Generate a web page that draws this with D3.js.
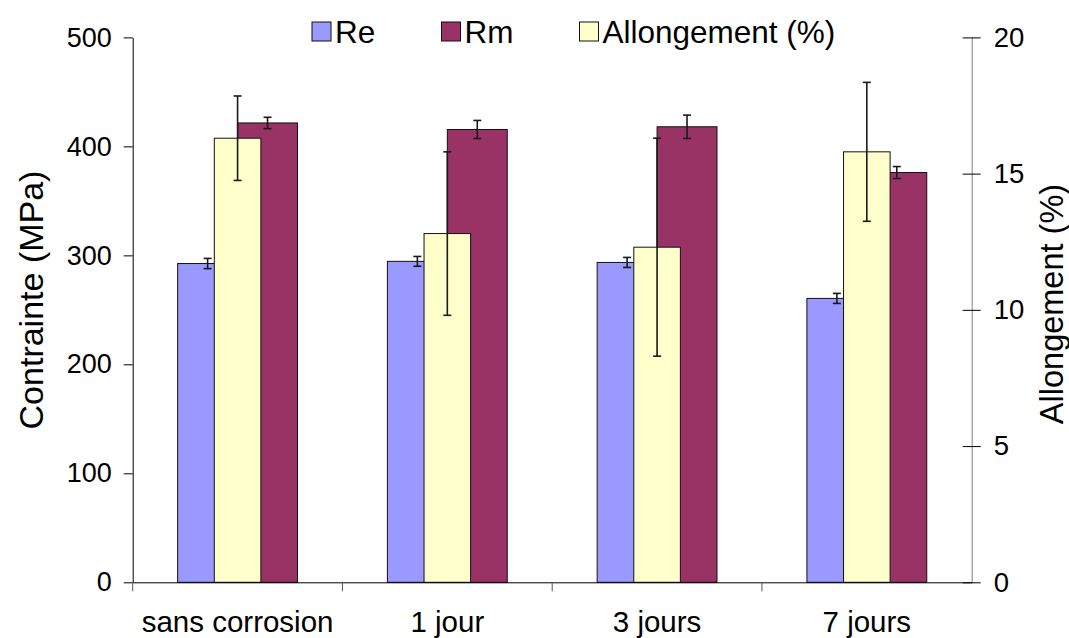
<!DOCTYPE html>
<html lang="fr">
<head>
<meta charset="utf-8">
<title>Re, Rm et allongement</title>
<script src="https://d3js.org/d3.v7.min.js"></script>
<style>
  body { margin: 0; background: #fff; }
  svg text { font-family: "Liberation Sans", Arial, sans-serif; fill: #000; }
</style>
</head>
<body>
<div id="chart"></div>
<script>
var categories = ["sans corrosion", "1 jour", "3 jours", "7 jours"];

var reValues = [292.5, 294.5, 293.5, 260.5];
var reErrors = [4.7, 4.5, 4.6, 4.6];

var rmValues = [421.5, 415.5, 418, 376];
var rmErrors = [5.2, 8.3, 10.7, 5.5];

var allongValues = [16.3, 12.8, 12.3, 15.8];
var allongErrors = [1.55, 3.0, 4.0, 2.55];

var leftTicks = [0, 100, 200, 300, 400, 500];
var rightTicks = [0, 5, 10, 15, 20];

var W = 1069, H = 638;
var plot = { left: 132.7, right: 971.7, top: 37.4, bottom: 582.3 };

var svg = d3.select("#chart").append("svg")
    .attr("width", W).attr("height", H);

var x = d3.scaleBand().domain(categories).range([plot.left, plot.right]).padding(0);
var yLeft = d3.scaleLinear().domain([0, 500]).range([plot.bottom, plot.top]);
var yRight = d3.scaleLinear().domain([0, 20]).range([plot.bottom, plot.top]);

var bw = x.bandwidth();
var primW = bw / 3.5;      // gap width 150%
var secW = bw * 0.222;

function center(i) { return x(categories[i]) + bw / 2; }

// primary bars (Re left, Rm right of group centre)
var gBars = svg.append("g");
gBars.selectAll(".re").data(reValues).enter().append("rect")
    .attr("x", function(d, i) { return center(i) - primW; })
    .attr("y", function(d) { return yLeft(d); })
    .attr("width", primW)
    .attr("height", function(d) { return yLeft(0) - yLeft(d); })
    .attr("fill", "#9999FF").attr("stroke", "#111").attr("stroke-width", 1);

gBars.selectAll(".rm").data(rmValues).enter().append("rect")
    .attr("x", function(d, i) { return center(i); })
    .attr("y", function(d) { return yLeft(d); })
    .attr("width", primW)
    .attr("height", function(d) { return yLeft(0) - yLeft(d); })
    .attr("fill", "#993366").attr("stroke", "#111").attr("stroke-width", 1);

// secondary bars (allongement), drawn over the others
gBars.selectAll(".al").data(allongValues).enter().append("rect")
    .attr("x", function(d, i) { return center(i) - secW / 2; })
    .attr("y", function(d) { return yRight(d); })
    .attr("width", secW)
    .attr("height", function(d) { return yRight(0) - yRight(d); })
    .attr("fill", "#FFFFCC").attr("stroke", "#111").attr("stroke-width", 1);

// error bars
function errorBars(values, errors, scale, cx) {
    var g = svg.append("g").attr("stroke", "#1a1a1a").attr("stroke-width", 1.6).attr("fill", "none");
    values.forEach(function(v, i) {
        var xc = cx(i), y1 = scale(v + errors[i]), y2 = scale(v - errors[i]);
        g.append("line").attr("x1", xc).attr("x2", xc).attr("y1", y1).attr("y2", y2);
        g.append("line").attr("x1", xc - 4).attr("x2", xc + 4).attr("y1", y1).attr("y2", y1);
        g.append("line").attr("x1", xc - 4).attr("x2", xc + 4).attr("y1", y2).attr("y2", y2);
    });
}
errorBars(reValues, reErrors, yLeft, function(i) { return center(i) - primW / 2; });
errorBars(rmValues, rmErrors, yLeft, function(i) { return center(i) + primW / 2; });
errorBars(allongValues, allongErrors, yRight, function(i) { return center(i); });

// left axis
var leftAxis = svg.append("g")
    .attr("transform", "translate(" + plot.left + ",0)")
    .call(d3.axisLeft(yLeft).tickValues(leftTicks).tickSize(9).tickSizeOuter(0).tickPadding(12));
leftAxis.selectAll("text").style("font-size", "27px");
leftAxis.selectAll("line, path").attr("stroke", "#000");

// right axis with crossing ticks
var rightAxis = svg.append("g")
    .attr("transform", "translate(" + plot.right + ",0)")
    .call(d3.axisRight(yRight).tickValues(rightTicks).tickSize(9).tickSizeOuter(0).tickPadding(13));
rightAxis.selectAll(".tick line").attr("x1", -9).attr("x2", 9).attr("stroke", "#000");
rightAxis.select(".domain").attr("stroke", "#808080");
rightAxis.selectAll("text").style("font-size", "27.5px");

// bottom axis: labels centred, ticks at group boundaries
var bottomAxis = svg.append("g")
    .attr("transform", "translate(0," + plot.bottom + ")")
    .call(d3.axisBottom(x).tickSize(0).tickSizeOuter(0));
bottomAxis.select(".domain").attr("stroke", "#000");
bottomAxis.selectAll("text").style("font-size", "29.5px").attr("y", 50).attr("dy", 0);

var bounds = categories.map(function(c) { return x(c); }).concat([plot.right]);
bottomAxis.selectAll(".bound").data(bounds.slice(0, 4)).enter().append("line")
    .attr("x1", function(d) { return d; }).attr("x2", function(d) { return d; })
    .attr("y1", 0).attr("y2", 9).attr("stroke", "#555");

// axis titles
svg.append("text")
    .attr("transform", "translate(31,300) rotate(-90)")
    .attr("text-anchor", "middle").attr("dy", "0.35em")
    .style("font-size", "34px").text("Contrainte (MPa)");

svg.append("text")
    .attr("transform", "translate(1052,304) rotate(-90)")
    .attr("text-anchor", "middle").attr("dy", "0.35em")
    .style("font-size", "32.5px").text("Allongement (%)");

// legend
var legendItems = [
    { name: "Re", color: "#9999FF", x: 312 },
    { name: "Rm", color: "#993366", x: 441.5 },
    { name: "Allongement (%)", color: "#FFFFCC", x: 579.5 }
];
var legend = svg.append("g");
legendItems.forEach(function(it) {
    legend.append("rect").attr("x", it.x).attr("y", 22).attr("width", 19).attr("height", 19)
        .attr("fill", it.color).attr("stroke", "#111").attr("stroke-width", 1);
    legend.append("text").attr("x", it.x + 23).attr("y", 43)
        .style("font-size", "31.5px").text(it.name);
});
</script>
</body>
</html>
